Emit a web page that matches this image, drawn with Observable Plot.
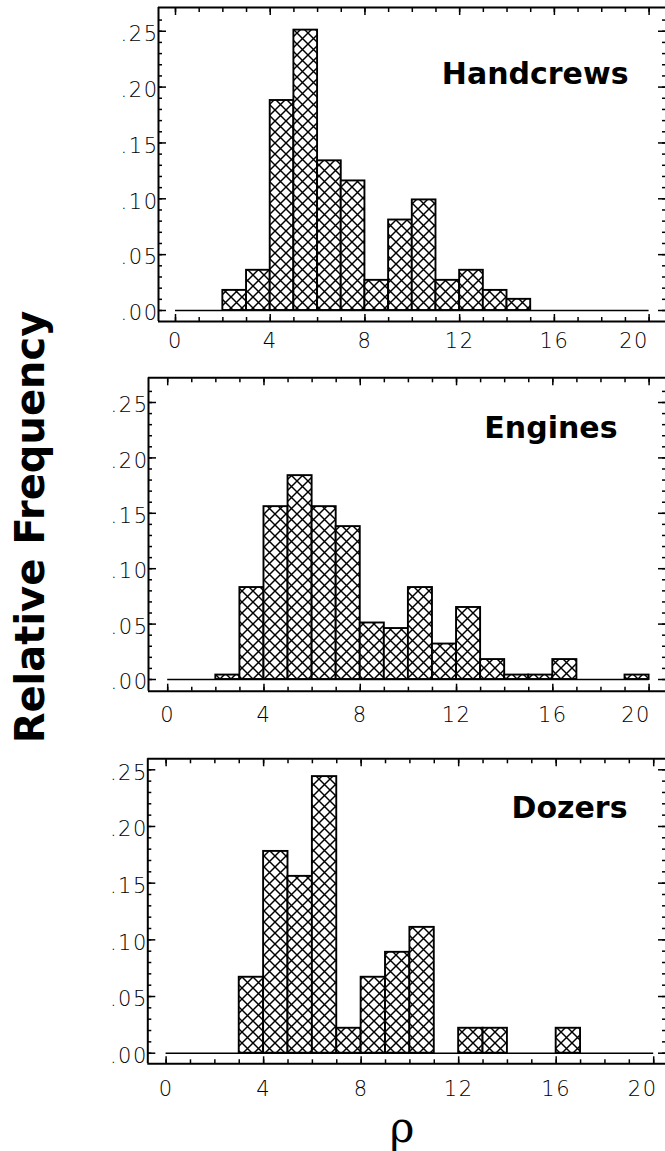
<!DOCTYPE html>
<html><head><meta charset="utf-8">
<script src="https://cdn.jsdelivr.net/npm/d3@7"></script>
<script src="https://cdn.jsdelivr.net/npm/@observablehq/plot@0.6"></script>
<style>
html,body{margin:0;padding:0;background:#fff;overflow:hidden}
#fig{position:relative;width:665px;height:1151px;background:#fff}
#fig svg.panel{position:absolute;left:0;overflow:visible}
#fig svg [aria-label$="tick label"] text{font-family:"DejaVu Sans",sans-serif;font-weight:200;font-size:21px;letter-spacing:1.5px;fill:#000}
#ylab{position:absolute;left:30px;top:527px;transform:translate(-50%,-50%) rotate(-90deg);font:bold 40px "DejaVu Sans",sans-serif;white-space:nowrap;color:#000;line-height:1}
#xlab{position:absolute;left:402px;top:1128px;transform:translate(-50%,-50%);font:42px "DejaVu Serif",serif;color:#000;line-height:1}
</style></head><body>
<svg width="0" height="0" style="position:absolute">
<defs><pattern id="hatch" patternUnits="userSpaceOnUse" width="11" height="11">
<rect width="11" height="11" fill="white"/>
<path d="M0,0L11,11M11,0L0,11M-1,10L1,12M10,-1L12,1" stroke="black" stroke-width="1.45"/>
</pattern></defs></svg>
<div id="fig"><div id="ylab">Relative Frequency</div><div id="xlab">ρ</div></div>
<script>
// ---- data ----
const panelNames = ["Handcrews", "Engines", "Dozers"];
const binWidth = 1;
const handcrewsBinStart = [2, 3, 4, 5, 6, 7, 8, 9, 10, 11, 12, 13, 14];
const handcrewsFreq    = [0.018, 0.036, 0.188, 0.251, 0.134, 0.116, 0.027, 0.081, 0.099, 0.027, 0.036, 0.018, 0.010];
const enginesBinStart  = [2, 3, 4, 5, 6, 7, 8, 9, 10, 11, 12, 13, 14, 15, 16, 19];
const enginesFreq      = [0.004, 0.083, 0.156, 0.184, 0.156, 0.138, 0.051, 0.046, 0.083, 0.032, 0.065, 0.018, 0.004, 0.004, 0.018, 0.004];
const dozersBinStart   = [3, 4, 5, 6, 7, 8, 9, 10, 12, 13, 16];
const dozersFreq       = [0.067, 0.178, 0.156, 0.244, 0.022, 0.067, 0.089, 0.111, 0.022, 0.022, 0.022];
const rhoRange = [0, 20];
const xTickLabels = [0, 4, 8, 12, 16, 20];
const xMinorTicks = [0, 1, 2, 3, 4, 5, 6, 7, 8, 9, 10, 11, 12, 13, 14, 15, 16, 17, 18, 19, 20];
const yTickLabels = [0, 0.05, 0.10, 0.15, 0.20, 0.25];
const yMinorTicks = [0, 0.01, 0.02, 0.03, 0.04, 0.05, 0.06, 0.07, 0.08, 0.09, 0.10, 0.11, 0.12, 0.13, 0.14, 0.15, 0.16, 0.17, 0.18, 0.19, 0.20, 0.21, 0.22, 0.23, 0.24, 0.25, 0.26];

// ---- layout (pixel calibration of each panel) ----
const W = 665;
const layout = [
  {starts: handcrewsBinStart, freq: handcrewsFreq, svgTop: 0,   frameTop: 7,     frameBottom: 321,    frameLeft: 158,   x0: 175,   xUnit: 23.68, y0: 310,    yUnit: 1117,   titleDx: -37, titleDy: 67, xPad: 12, yDy: 3, lastDx: -15},
  {starts: enginesBinStart,   freq: enginesFreq,   svgTop: 360, frameTop: 377.3, frameBottom: 690.7,  frameLeft: 148,   x0: 167.2, xUnit: 24.07, y0: 679,    yUnit: 1108,   titleDx: -48, titleDy: 51, xPad: 16, yDy: 3, lastDx: -13},
  {starts: dozersBinStart,    freq: dozersFreq,    svgTop: 735, frameTop: 758.3, frameBottom: 1063.3, frameLeft: 147.3, x0: 165.6, xUnit: 24.38, y0: 1052.7, yUnit: 1133.6, titleDx: -38, titleDy: 50, xPad: 17, yDy: 3, lastDx: -11}
];

const fmtY = d => d3.format(".2f")(d).replace(/^0/, "");

const fig = document.getElementById("fig");
layout.forEach((p, i) => {
  const bars = p.starts.map((s, j) => ({lo: s, hi: s + binWidth, f: p.freq[j]}));
  const xDomain = [(p.frameLeft - p.x0) / p.xUnit, (W - p.x0) / p.xUnit];
  const yDomain = [(p.y0 - p.frameBottom) / p.yUnit, (p.y0 - p.frameTop) / p.yUnit];
  const height = Math.round(p.frameBottom - p.svgTop + 48);
  const marginTop = p.frameTop - p.svgTop;
  const marginBottom = height - (p.frameBottom - p.svgTop);
  const lastX = xTickLabels[xTickLabels.length - 1];
  const chart = Plot.plot({
    width: W, height,
    marginLeft: p.frameLeft, marginRight: 0, marginTop, marginBottom,
    x: {domain: xDomain, label: null},
    y: {domain: yDomain, label: null},
    style: {background: "transparent", color: "black", overflow: "visible"},
    marks: [
      Plot.ruleY([0], {x1: rhoRange[0], x2: rhoRange[1], stroke: "black", strokeWidth: 1.6}),
      Plot.rect(bars, {x1: "lo", x2: "hi", y1: 0, y2: "f", fill: "url(#hatch)", stroke: "black", strokeWidth: 1.9}),
      // frame (left, top, bottom)
      Plot.ruleX([xDomain[0]], {stroke: "black", strokeWidth: 2}),
      Plot.ruleY([yDomain[0]], {stroke: "black", strokeWidth: 2}),
      Plot.ruleY([yDomain[1]], {stroke: "black", strokeWidth: 2}),
      // inward ticks
      Plot.axisY({ticks: yMinorTicks.filter(v => v <= yDomain[1]), anchor: "left", tickSize: 4, dx: 4, tickFormat: () => "", label: null, strokeWidth: 1.5}),
      Plot.axisY({ticks: yTickLabels, anchor: "left", tickSize: 8, dx: 8, tickFormat: () => "", label: null, strokeWidth: 1.5}),
      Plot.axisY({ticks: yMinorTicks.filter(v => v <= yDomain[1]), anchor: "right", tickSize: 4, dx: -4, tickFormat: () => "", label: null, strokeWidth: 1.5}),
      Plot.axisY({ticks: yTickLabels, anchor: "right", tickSize: 8, dx: -8, tickFormat: () => "", label: null, strokeWidth: 1.5}),
      Plot.axisX({ticks: xMinorTicks, anchor: "bottom", tickSize: 4, dy: -4, tickFormat: () => "", label: null, strokeWidth: 1.5}),
      Plot.axisX({ticks: xTickLabels, anchor: "bottom", tickSize: 7, dy: -7, tickFormat: () => "", label: null, strokeWidth: 1.5}),
      Plot.axisX({ticks: xMinorTicks, anchor: "top", tickSize: 4, dy: 4, tickFormat: () => "", label: null, strokeWidth: 1.5}),
      Plot.axisX({ticks: xTickLabels, anchor: "top", tickSize: 7, dy: 7, tickFormat: () => "", label: null, strokeWidth: 1.5}),
      // tick labels
      Plot.axisX({ticks: xTickLabels.filter(v => v !== lastX), anchor: "bottom", tickSize: 0, tickPadding: p.xPad, tickFormat: d => String(d), label: null}),
      Plot.axisX({ticks: [lastX], anchor: "bottom", tickSize: 0, tickPadding: p.xPad, dx: p.lastDx, tickFormat: d => String(d), label: null}),
      Plot.axisY({ticks: yTickLabels, anchor: "left", tickSize: 0, tickPadding: 0, dy: p.yDy, tickFormat: fmtY, label: null}),
      // panel title
      Plot.text([panelNames[i]], {frameAnchor: "top-right", textAnchor: "end", lineAnchor: "middle", dx: p.titleDx, dy: p.titleDy,
        fontFamily: "'DejaVu Sans', sans-serif", fontWeight: "bold", fontSize: 30, fill: "black"})
    ]
  });
  chart.classList.add("panel");
  chart.style.top = p.svgTop + "px";
  fig.appendChild(chart);
});
</script>
</body></html>
